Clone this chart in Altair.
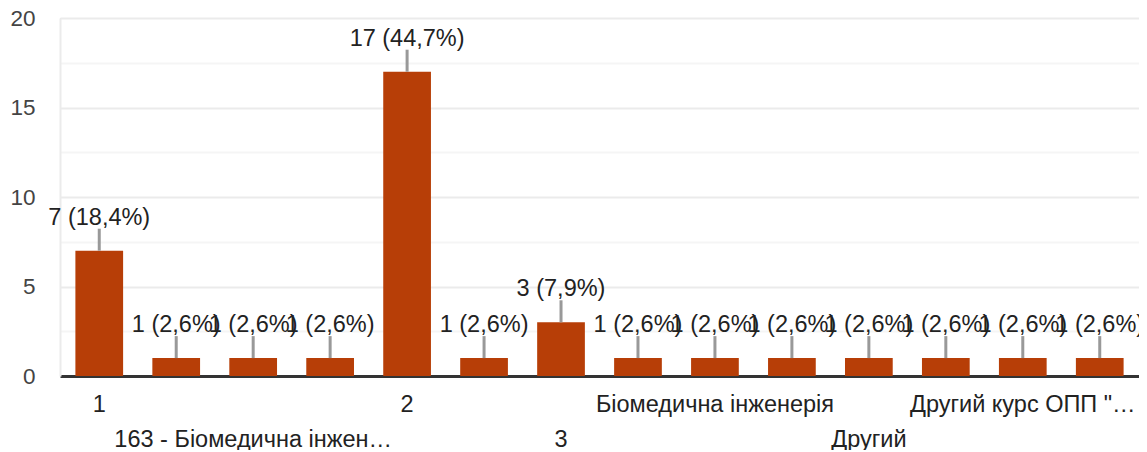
import altair as alt
import pandas as pd

categories = [
    "1", "1 курс", "163 - Біомедична інженерія", "163 Біомедична інженерія",
    "2", "2 курс", "3", "3 курс", "Біомедична інженерія",
    "Біомедична інженерія, 2 курс", "Другий", "Другий курс",
    "Другий курс ОПП \"Біомедична інженерія\"", "Другий, бакалавр",
]
counts = [7, 1, 1, 1, 17, 1, 3, 1, 1, 1, 1, 1, 1, 1]
axis_labels = [
    "1", "", "163 - Біомедична інжен…", "", "2", "", "3", "",
    "Біомедична інженерія", "", "Другий", "", "Другий курс ОПП \"…", "",
]
label_rows = [1, 0, 2, 0, 1, 0, 2, 0, 1, 0, 2, 0, 1, 0]

total = sum(counts)
value_text = [f"{c} ({c / total * 100:.1f}%)".replace(".", ",") for c in counts]

df = pd.DataFrame({
    "cat": categories,
    "count": counts,
    "vlabel": value_text,
    "alabel": axis_labels,
    "row": label_rows,
})

W, H = 1079, 358
FONT = "Liberation Sans"
BAR = "#b73e07"

xenc = alt.X("cat:N", sort=categories,
             scale=alt.Scale(paddingInner=0.38, paddingOuter=0.2),
             axis=alt.Axis(labels=False, ticks=False, title=None, grid=False,
                           domainColor="#333333", domainWidth=3))
yscale = alt.Scale(domain=[0, 20], nice=False)

base = alt.Chart(df)

bars = base.mark_bar(color=BAR).encode(
    x=xenc,
    y=alt.Y("count:Q", scale=yscale,
            axis=alt.Axis(values=[0, 2.5, 5, 7.5, 10, 12.5, 15, 17.5, 20],
                          labelExpr="datum.value % 5 === 0 ? datum.label : ''",
                          title=None, ticks=False, labelPadding=25,
                          labelFont=FONT, labelFontSize=22.5, labelColor="#444444",
                          labelFlush=False,
                          domainColor="#ebebeb", domainWidth=2,
                          gridColor={"condition": {"test": "datum.value % 5 === 0", "value": "#ebebeb"},
                                     "value": "#f5f5f5"},
                          gridWidth=2)),
)

leaders = base.mark_rule(color="#999999", strokeWidth=3, y2Offset=-22).encode(
    x=alt.X("cat:N", sort=categories),
    y=alt.Y("count:Q", scale=yscale),
    y2=alt.Y2("count:Q"),
)

vlabels = base.mark_text(font=FONT, fontSize=23.5, color="#222222",
                         baseline="alphabetic", dy=-26).encode(
    x=alt.X("cat:N", sort=categories),
    y=alt.Y("count:Q", scale=yscale),
    text="vlabel:N",
)

row1 = base.transform_filter("datum.row === 1").mark_text(
    font=FONT, fontSize=23.5, color="#222222", baseline="alphabetic").encode(
    x=alt.X("cat:N", sort=categories),
    y=alt.value(H + 36),
    text="alabel:N",
)
row2 = base.transform_filter("datum.row === 2").mark_text(
    font=FONT, fontSize=23.5, color="#222222", baseline="alphabetic").encode(
    x=alt.X("cat:N", sort=categories),
    y=alt.value(H + 71),
    text="alabel:N",
)

chart = alt.layer(bars, leaders, vlabels, row1, row2).properties(
    width=W, height=H,
    autosize=alt.AutoSizeParams(type="none"),
    padding={"left": 52, "top": 10, "right": 0, "bottom": 74},
).configure_view(stroke=None).configure(background="white")

chart.save("out.html", embed_options={"renderer": "svg", "actions": False})
